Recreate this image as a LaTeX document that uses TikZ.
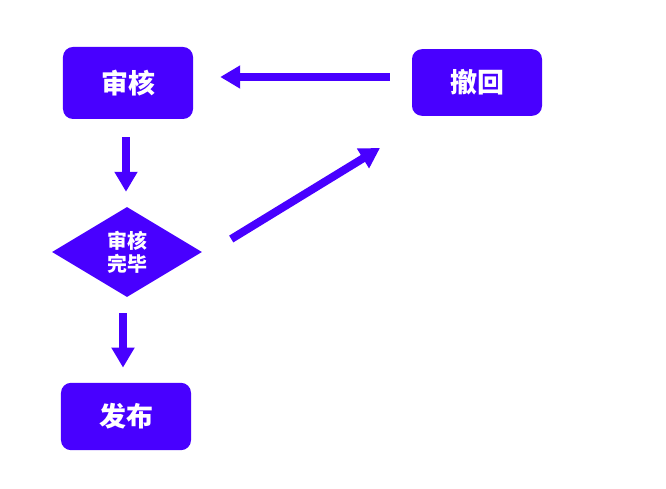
\documentclass[tikz,border=0pt]{standalone}
\usepackage{fontspec}
\newfontfamily\cjk{Noto Sans CJK SC}
\usepackage{tikz}
\usetikzlibrary{arrows,arrows.meta,shapes}
\definecolor{vio}{HTML}{4800FF}
\tikzstyle{box} = [draw=none, fill=vio, rounded corners=0.3cm, text=white, minimum width=3.9cm, minimum height=2.1cm, font=\cjk\bfseries\fontsize{23}{26}\selectfont]
\tikzstyle{arrow} = [draw, line width=0.24cm, color=vio, -{Triangle[length=0.6cm,width=0.66cm]}]

\begin{document}
\begin{tikzpicture}[x=0.03cm,y=-0.03cm]
\fill[white] (0,0) rectangle (666,489);
\useasboundingbox (0,0) rectangle (666,489);

\node[box,minimum height=2.16cm] at (128,83) (audit) {审核};
\node[box,minimum height=2.0cm] at (477,82.5) (revoke) {撤回};
\node[diamond,fill=vio,text=white,inner sep=0pt,aspect=1.67,minimum width=4.5cm,minimum height=2.7cm,align=center,
font=\cjk\bfseries\fontsize{17}{19.5}\selectfont] at (127,252) (finish) {审核\\完毕};
\node[box,minimum height=2.02cm] at (126,416.5) (publish) {发布};
\coordinate (tip) at (380,148);

\draw[arrow,shorten <=0.66cm,shorten >=0.81cm] ([yshift=0.165cm]revoke.west) -- ([yshift=0.165cm]revoke.west -| audit.east);
\draw[arrow,shorten <=0.54cm,shorten >=0.45cm] ([xshift=-0.06cm]audit.south) -- ([xshift=-0.03cm]finish.north);
\draw[arrow,shorten <=0.48cm,shorten >=0.45cm] ([xshift=-0.12cm]finish.south) -- ([xshift=-0.09cm]publish.north);
\draw[arrow] ([xshift=0.87cm,yshift=0.39cm]finish.east) -- (tip);

\end{tikzpicture}
\end{document}
